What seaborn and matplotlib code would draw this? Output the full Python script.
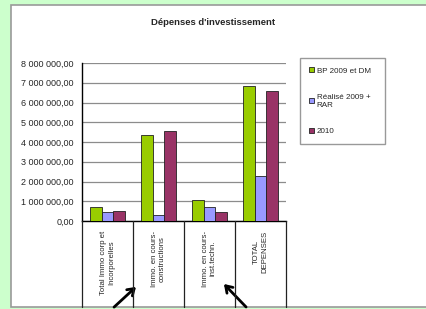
import pandas as pd
import matplotlib
matplotlib.use('Agg')
import matplotlib.pyplot as plt
import matplotlib.patches as patches
import matplotlib.transforms as mtransforms
from matplotlib.ticker import FuncFormatter, MultipleLocator
import seaborn as sns

categories = ['Total Immo corp et\nIncorporelles', 'Immo. en cours-\nconstructions',
              'Immo. en cours-\ninst.techn.', 'TOTAL\nDEPENSES']
series = ['BP 2009 et DM', 'Réalisé 2009 +\nRAR', '2010']
bp_2009 = [700000, 4350000, 1050000, 6830000]
realise_2009 = [450000, 300000, 700000, 2260000]
budget_2010 = [490000, 4560000, 480000, 6600000]
colors = ['#99cc00', '#9999ff', '#993366']

df = pd.DataFrame({
    'Catégorie': categories * 3,
    'Série': [series[0]] * 4 + [series[1]] * 4 + [series[2]] * 4,
    'Montant': bp_2009 + realise_2009 + budget_2010,
})

sns.set_style('white')
plt.rcParams['font.family'] = ['Liberation Sans', 'DejaVu Sans']

fig = plt.figure(figsize=(4.27, 3.09), dpi=100)
fig.patch.set_facecolor('#ccffcc')

# white chart area
fig.add_artist(patches.Rectangle((11 / 427, 1 - 306.5 / 309), 1.2, 301.5 / 309,
                                 transform=fig.transFigure, facecolor='white',
                                 edgecolor='#999999', linewidth=1.2, zorder=0))

ax = fig.add_axes([82 / 427, 1 - 221 / 309, 204 / 427, 158 / 309])
ax.set_facecolor('none')

sns.barplot(data=df, x='Catégorie', y='Montant', hue='Série', palette=colors,
            saturation=1, width=0.67, edgecolor='#222222', linewidth=0.6, ax=ax, zorder=3)

ax.set_ylim(0, 8000000)
ax.set_xlim(-0.5, len(categories) - 0.5)
ax.yaxis.set_major_locator(MultipleLocator(1000000))
ax.yaxis.set_major_formatter(FuncFormatter(
    lambda v, p: f'{v:,.2f}'.replace(',', ' ').replace('.', ',')))
ax.grid(axis='y', color='#8c8c8c', linewidth=0.9, zorder=0)
ax.set_axisbelow(True)

for s in ['top', 'right']:
    ax.spines[s].set_visible(False)
ax.spines['left'].set_color('black')
ax.spines['bottom'].set_color('black')
ax.spines['left'].set_linewidth(1.0)
ax.spines['bottom'].set_linewidth(1.0)

ax.tick_params(axis='y', which='major', direction='out', length=3, width=0.8,
               color='black', labelsize=6.5, pad=3)
ax.tick_params(axis='x', length=0, labelsize=5.6, pad=7)
ax.set_xticks(range(len(categories)))
ax.set_xticklabels(categories, rotation=90, va='top', ha='center', multialignment='center')
ax.set_xlabel('')
ax.set_ylabel('')

# category separators extending into label area
trans = mtransforms.blended_transform_factory(ax.transData, ax.transAxes)
for i in range(len(categories) + 1):
    ax.plot([i - 0.5, i - 0.5], [0, -85.5 / 158], transform=trans, color='#222222',
            linewidth=0.9, clip_on=False, zorder=4)

ax.get_legend().remove()
handles, labels = ax.get_legend_handles_labels()
leg = fig.legend(handles, labels, loc='upper left',
                 bbox_to_anchor=(300 / 427, 1 - 145 / 309, 85 / 427, 87 / 309),
                 mode='expand', fontsize=5.8, frameon=True, fancybox=False,
                 handlelength=0.6, handleheight=0.6, handletextpad=0.3,
                 labelspacing=2.35, borderpad=1.15, borderaxespad=0)
leg.get_frame().set_edgecolor('#808080')
leg.get_frame().set_linewidth(1.0)

fig.text(0.5, 1 - 22.5 / 309, "Dépenses d'investissement", ha='center', va='center',
         fontsize=6.8, fontweight='bold')

# arrows
for head, tail in [((138, 24), (112, 0)), ((222, 27), (248, 0))]:
    ax.annotate('', xy=head, xytext=tail, xycoords='figure pixels',
                textcoords='figure pixels',
                arrowprops=dict(arrowstyle='->,head_length=0.45,head_width=0.3',
                                color='black', linewidth=2))

fig.savefig('out.png', dpi=100, facecolor=fig.get_facecolor())
